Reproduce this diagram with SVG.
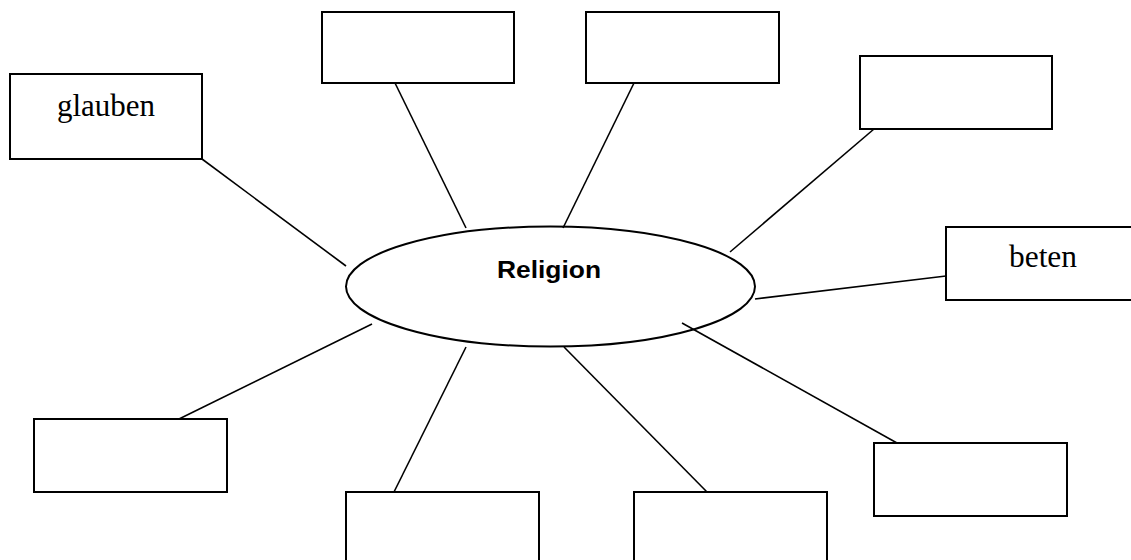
<svg xmlns="http://www.w3.org/2000/svg" width="1131" height="560" viewBox="0 0 1131 560">
<style>
.box{fill:#fff;stroke:#000;stroke-width:2}
.conn line{stroke:#000;stroke-width:1.6}
.lbl{font-family:"Liberation Serif","Times New Roman",serif;font-size:31px;fill:#000}
.center{font-family:"Liberation Sans",Arial,sans-serif;font-size:23px;font-weight:bold;fill:#000}
</style>
<rect width="1131" height="560" fill="#fff"/>
<g id="connectors" class="conn">
<line x1="202" y1="159" x2="346" y2="266"/>
<line x1="395" y1="83" x2="466" y2="228"/>
<line x1="634" y1="83" x2="563" y2="228"/>
<line x1="874" y1="129" x2="730" y2="252"/>
<line x1="755" y1="299" x2="946" y2="276"/>
<line x1="179" y1="419" x2="372" y2="324"/>
<line x1="394" y1="492" x2="466" y2="347"/>
<line x1="707" y1="492" x2="564" y2="347"/>
<line x1="897" y1="443" x2="682" y2="323"/>
</g>
<g id="center-node">
<ellipse cx="550.5" cy="286.5" rx="204.5" ry="60" fill="none" stroke="#000" stroke-width="2"/>
<text class="center" x="497" y="278" textLength="104" lengthAdjust="spacingAndGlyphs">Religion</text>
</g>
<g id="node-glauben">
<rect class="box" x="10" y="74" width="192" height="85"/>
<text class="lbl" x="57" y="116" textLength="98" lengthAdjust="spacingAndGlyphs">glauben</text>
</g>
<g id="node-top1"><rect class="box" x="322" y="12" width="192" height="71"/></g>
<g id="node-top2"><rect class="box" x="586" y="12" width="193" height="71"/></g>
<g id="node-topright"><rect class="box" x="860" y="56" width="192" height="73"/></g>
<g id="node-beten">
<rect class="box" x="946" y="227" width="200" height="73"/>
<text class="lbl" x="1009" y="267" textLength="68" lengthAdjust="spacingAndGlyphs">beten</text>
</g>
<g id="node-bottomleft"><rect class="box" x="34" y="419" width="193" height="73"/></g>
<g id="node-bottom1"><rect class="box" x="346" y="492" width="193" height="80"/></g>
<g id="node-bottom2"><rect class="box" x="634" y="492" width="193" height="80"/></g>
<g id="node-bottomright"><rect class="box" x="874" y="443" width="193" height="73"/></g>
</svg>
